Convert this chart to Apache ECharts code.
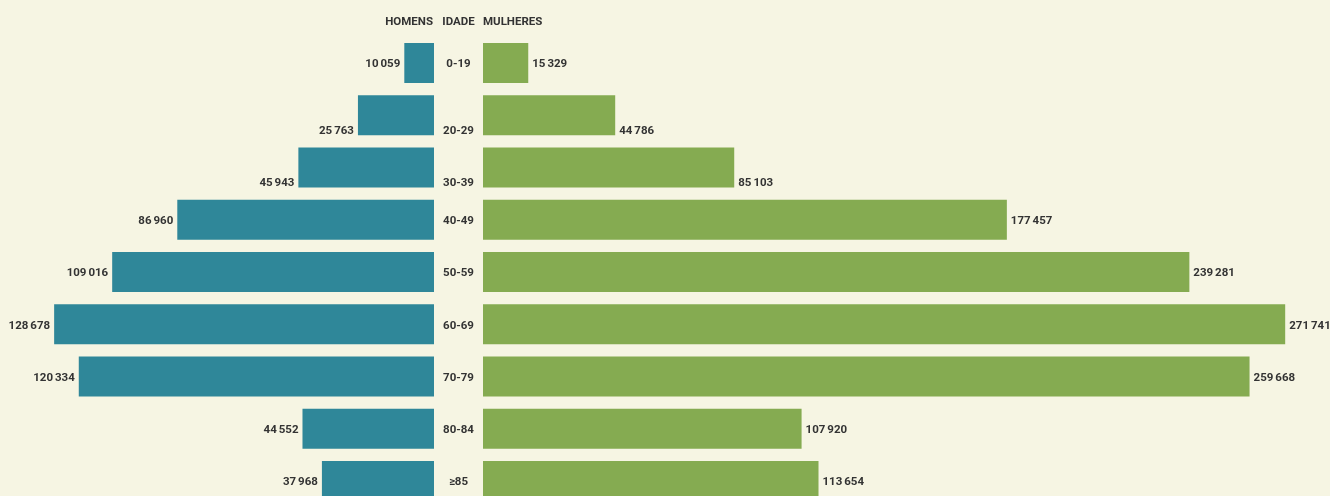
<!DOCTYPE html>
<html><head><meta charset="utf-8">
<script src="https://cdn.jsdelivr.net/npm/echarts@6/dist/echarts.min.js"></script>
<style>html,body{margin:0;padding:0;background:#f6f5e3;}#c{width:1330px;height:496px;}</style>
</head><body><div id="c"></div>
<script>
const ages = ['0-19','20-29','30-39','40-49','50-59','60-69','70-79','80-84','≥85'];
const homens = [10059, 25763, 45943, 86960, 109016, 128678, 120334, 44552, 37968];
const mulheres = [15329, 44786, 85103, 177457, 239281, 271741, 259668, 107920, 113654];
const headers = ['HOMENS', 'IDADE', 'MULHERES'];
const lowRows = ['20-29', '30-39'];

const FONT = 'Roboto,"Liberation Sans",sans-serif';
const TXT = '#333333';
const perPx = 338.75;
function fmt(v){ return String(v).replace(/\B(?=(\d{3})+(?!\d))/g, '\u2006'); }
function items(vals){
  return vals.map((v,i)=> lowRows.includes(ages[i]) ? {value:v, label:{offset:[0,15.5]}} : v);
}
const chart = echarts.init(document.getElementById('c'));
const lbl = {fontFamily: FONT, fontWeight:'bold', fontSize:11.5, color:TXT};
const head = Object.assign({}, lbl, {fontSize:11.5, lineHeight:14});
chart.setOption({
  backgroundColor:'#f6f5e3',
  animation:false,
  title:[
    {text:headers[0], right:1330-433, top:15, padding:0, textStyle:head},
    {text:headers[1], left:458.5, textAlign:'center', top:15, padding:0, textStyle:head},
    {text:headers[2], left:483, top:15, padding:0, textStyle:head}
  ],
  grid:[
    {left:0, width:434, top:36.9, height:470.25, outerBoundsMode:'none', containLabel:false},
    {left:483, width:847, top:36.9, height:470.25, outerBoundsMode:'none', containLabel:false}
  ],
  xAxis:[
    {type:'value', gridIndex:0, inverse:true, min:0, max:434*perPx, show:false},
    {type:'value', gridIndex:1, min:0, max:847*perPx, show:false}
  ],
  yAxis:[
    {type:'category', gridIndex:0, data:ages, inverse:true, show:false},
    {type:'category', gridIndex:1, data:ages, inverse:true,
     axisLine:{show:false}, axisTick:{show:false}, splitLine:{show:false},
     axisLabel:Object.assign({}, lbl, {align:'center', margin:24.5,
       formatter:(v)=> lowRows.includes(v) ? '{low|'+v+'}' : '{n|'+v+'}',
       rich:{
         n:Object.assign({}, lbl, {padding:[3,0,0,0]}),
         low:Object.assign({}, lbl, {padding:[31,0,0,0]})
       }})}
  ],
  series:[
    {type:'bar', xAxisIndex:0, yAxisIndex:0, data:items(homens), barWidth:40,
     itemStyle:{color:'#2f8799'},
     label:Object.assign({show:true, position:'left', distance:4, offset:[0,1.5], formatter:p=>fmt(p.value)}, lbl)},
    {type:'bar', xAxisIndex:1, yAxisIndex:1, data:items(mulheres), barWidth:40,
     itemStyle:{color:'#85ab51'},
     label:Object.assign({show:true, position:'right', distance:4, offset:[0,1.5], formatter:p=>fmt(p.value)}, lbl)}
  ]
});
</script></body></html>
